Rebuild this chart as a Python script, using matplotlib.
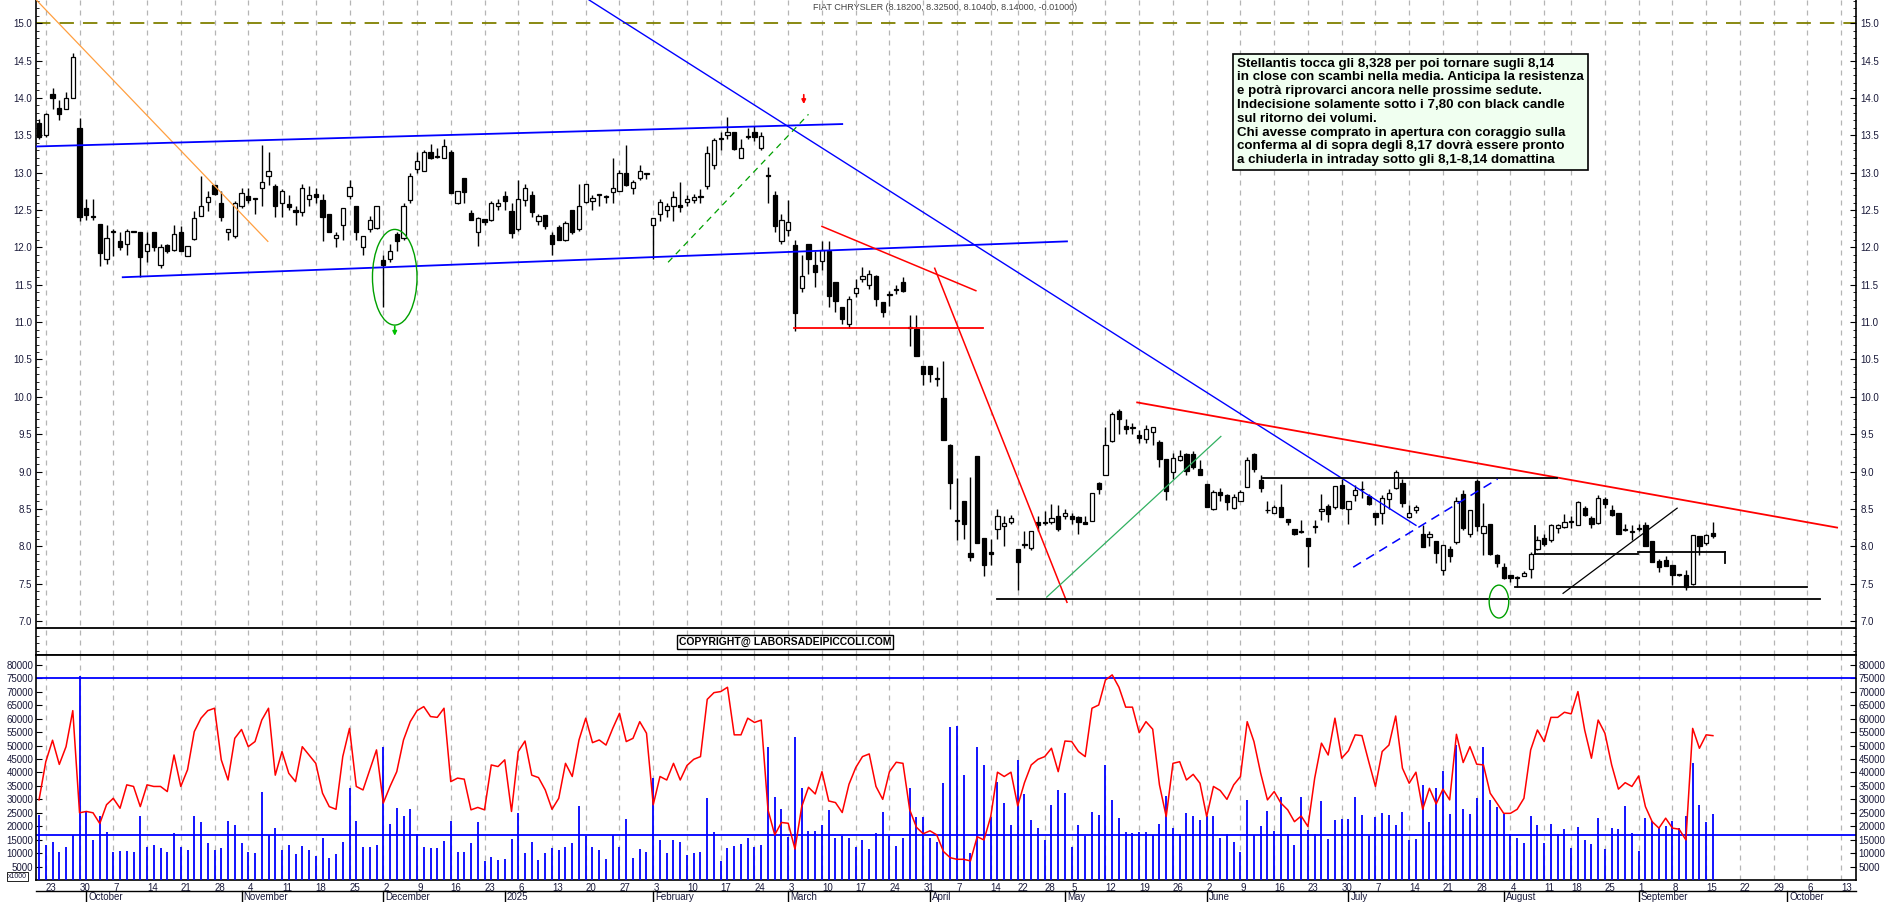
import numpy as np
import pandas as pd
import matplotlib
matplotlib.use("Agg")
import matplotlib.pyplot as plt
from matplotlib.patches import Rectangle, Ellipse

# ---------------- DATA ----------------
OPEN = [13.67,13.5,14.05,13.87,13.85,14.0,13.6,
 12.53,12.42,12.31,11.85,12.2,12.08,12.05,12.21,12.21,11.95,12.21,11.77,12.03,11.96,12.2,11.89,12.11,12.42,12.61,12.83,12.6,12.2,12.15,
 12.55,12.69,12.65,12.79,12.96,12.82,12.6,12.58,12.5,12.47,12.65,12.72,12.63,12.45,12.13,12.3,12.69,12.56,12.01,12.25,12.26,
 11.83,11.85,12.18,12.12,12.64,13.05,13.02,13.28,13.21,13.2,13.28,12.59,12.93,12.46,12.21,12.38,12.37,12.55,
 12.69,12.48,12.25,12.63,12.7,12.35,12.43,12.17,12.27,12.1,12.5,12.24,12.61,12.62,12.7,12.68,12.74,12.75,13.0,12.8,12.93,12.98,
 12.3,12.44,12.5,12.55,12.57,12.61,12.64,12.68,12.82,13.1,13.45,13.5,13.55,13.2,13.48,13.55,13.33,12.95,12.7,12.08,
 12.23,12.03,11.45,12.04,11.77,11.82,11.95,11.53,11.2,10.98,11.39,11.58,11.5,11.61,11.27,11.36,11.43,11.54,10.92,10.91,10.41,
 10.41,10.24,9.99,9.35,8.34,8.61,7.91,9.21,8.11,7.93,8.23,8.27,8.32,7.97,8.02,7.98,8.33,8.31,8.33,8.4,
 8.4,8.4,8.39,8.32,8.34,8.84,8.96,9.41,9.81,9.61,9.58,9.49,9.44,9.53,9.39,9.17,8.99,9.16,9.24,9.24,9.04,
 8.83,8.5,8.73,8.69,8.51,8.61,8.79,9.23,8.89,8.48,8.45,8.52,8.37,8.23,8.21,8.11,8.26,8.47,8.54,8.53,8.82,
 8.5,8.69,8.76,8.67,8.45,8.44,8.63,8.78,8.84,8.39,8.49,8.16,8.12,8.07,7.68,7.96,8.06,8.7,8.17,8.87,8.18,8.3,7.88,
 7.72,7.62,7.58,7.6,7.69,7.96,8.11,8.09,8.25,8.26,8.32,8.29,8.51,8.38,8.31,8.63,8.49,8.44,8.22,8.19,
 8.23,8.28,8.07,7.8,7.82,7.75,7.62,7.62,7.5,8.14,8.05,8.182]
HIGH = [13.72,13.8,14.13,13.97,14.08,14.6,13.73,
 12.65,12.65,12.31,12.3,12.25,12.2,12.25,12.22,12.21,12.2,12.21,12.05,12.05,12.3,12.28,12.02,12.48,12.95,12.75,12.83,12.75,12.25,12.62,
 12.8,12.8,12.66,13.37,13.28,12.85,12.78,12.7,12.55,12.85,12.82,12.8,12.72,12.45,12.2,12.52,12.9,12.56,12.15,12.42,12.55,
 11.9,12.05,12.2,12.6,13.0,13.28,13.3,13.38,13.33,13.45,13.3,12.75,12.93,12.5,12.4,12.38,12.62,12.65,
 12.75,12.6,12.9,12.85,12.75,12.45,12.43,12.2,12.3,12.35,12.5,12.85,12.85,12.7,12.72,12.7,13.2,13.03,13.37,12.9,13.1,13.0,
 12.39,12.65,12.6,12.75,12.87,12.7,12.72,12.78,13.35,13.47,13.55,13.75,13.55,13.45,13.6,13.62,13.55,13.07,12.75,12.45,
 12.64,12.1,11.9,12.04,11.95,12.08,12.08,11.53,11.2,11.35,11.58,11.74,11.7,11.63,11.27,11.42,11.5,11.6,11.1,11.1,10.41,
 10.41,10.4,10.48,9.37,8.92,8.6,8.93,9.21,8.1,8.1,8.5,8.4,8.42,7.97,8.2,8.2,8.4,8.47,8.57,8.55,
 8.5,8.45,8.4,8.4,8.71,8.86,9.6,9.8,9.84,9.7,9.65,9.55,9.62,9.6,9.42,9.17,9.25,9.29,9.25,9.27,9.15,
 8.83,8.75,8.78,8.7,8.7,8.75,9.2,9.25,8.95,8.6,8.55,8.83,8.37,8.23,8.35,8.11,8.35,8.7,8.57,8.81,8.9,
 8.6,8.82,8.88,8.7,8.45,8.68,8.77,9.02,8.9,8.55,8.55,8.28,8.2,8.07,8.02,8.0,8.66,8.75,8.49,8.9,8.58,8.3,7.9,
 7.77,7.6,7.6,7.67,7.92,8.14,8.17,8.3,8.3,8.43,8.4,8.6,8.54,8.4,8.68,8.66,8.55,8.45,8.3,8.28,
 8.3,8.32,8.07,7.83,7.87,7.75,7.63,7.68,8.15,8.14,8.17,8.325]
LOW = [13.45,13.48,13.85,13.7,13.85,14.0,12.35,
 12.37,12.37,11.75,11.78,11.88,11.97,11.9,12.2,11.6,11.8,11.95,11.72,11.93,11.95,11.95,11.88,12.1,12.42,12.48,12.7,12.35,12.1,12.13,
 12.52,12.6,12.45,12.55,12.84,12.4,12.4,12.5,12.3,12.42,12.55,12.6,12.08,12.2,12.0,12.1,12.65,12.1,11.9,12.2,12.25,
 11.2,11.8,11.95,12.1,12.6,13.0,13.02,13.18,13.2,13.2,12.73,12.58,12.6,12.36,12.02,12.3,12.35,12.5,
 12.5,12.13,12.22,12.55,12.4,12.3,12.25,11.9,12.1,12.08,12.18,12.22,12.6,12.5,12.55,12.6,12.6,12.75,12.82,12.72,12.9,12.92,
 11.85,12.35,12.4,12.35,12.47,12.55,12.6,12.6,12.78,13.05,13.3,13.45,13.3,13.2,13.45,13.42,13.3,12.6,12.2,12.04,
 12.15,10.88,11.4,11.65,11.47,11.7,11.2,11.13,10.97,10.92,11.33,11.53,11.44,11.22,11.07,11.22,11.37,11.4,10.68,10.54,10.16,
 10.2,10.15,9.42,8.5,8.09,8.1,7.8,8.05,7.6,7.75,8.1,8.0,8.3,7.42,7.98,7.95,8.2,8.28,8.3,8.2,
 8.37,8.3,8.17,8.3,8.34,8.7,8.96,9.4,9.5,9.5,9.5,9.38,9.38,9.35,9.06,8.62,8.9,9.14,8.95,9.03,8.96,
 8.52,8.48,8.6,8.49,8.5,8.6,8.79,9.0,8.73,8.45,8.45,8.4,8.28,8.15,8.18,7.72,8.18,8.35,8.32,8.5,8.5,
 8.3,8.6,8.65,8.55,8.28,8.3,8.5,8.76,8.52,8.38,8.45,7.99,8.0,7.78,7.62,7.79,8.03,8.22,8.12,8.2,7.88,7.88,7.72,
 7.56,7.52,7.45,7.6,7.58,7.95,8.0,8.06,8.18,8.25,8.25,8.29,8.4,8.25,8.3,8.51,8.4,8.17,8.2,8.08,
 8.2,8.0,7.79,7.66,7.75,7.48,7.6,7.42,7.48,7.88,8.02,8.104]
CLOSE = [13.48,13.79,14.0,13.79,14.0,14.55,12.41,
 12.43,12.4,11.93,12.13,12.22,12.0,12.22,12.21,11.87,12.05,12.0,12.01,11.95,12.18,11.95,12.02,12.39,12.56,12.68,12.72,12.4,12.24,12.6,
 12.73,12.63,12.65,12.88,13.02,12.55,12.76,12.54,12.47,12.8,12.7,12.67,12.4,12.21,12.17,12.52,12.81,12.21,12.15,12.36,12.55,
 11.76,11.95,12.09,12.55,12.96,13.15,13.28,13.2,13.21,13.35,12.73,12.75,12.74,12.37,12.39,12.34,12.6,12.6,
 12.62,12.19,12.65,12.8,12.47,12.42,12.28,12.05,12.1,12.33,12.21,12.55,12.85,12.66,12.7,12.67,12.8,13.0,12.84,12.87,13.02,12.98,
 12.39,12.61,12.55,12.68,12.54,12.65,12.68,12.68,13.26,13.43,13.45,13.55,13.32,13.33,13.48,13.48,13.49,12.95,12.29,12.37,
 12.34,11.12,11.61,11.84,11.67,11.97,11.35,11.28,11.04,11.31,11.46,11.62,11.64,11.31,11.14,11.36,11.43,11.42,10.92,10.54,10.31,
 10.31,10.24,9.42,8.84,8.34,8.3,7.85,8.05,7.75,7.9,8.4,8.31,8.38,7.79,8.02,8.2,8.29,8.31,8.38,8.23,
 8.44,8.37,8.32,8.3,8.71,8.76,9.35,9.77,9.7,9.57,9.58,9.45,9.57,9.6,9.17,8.74,9.18,9.21,9.01,9.06,8.96,
 8.52,8.73,8.68,8.59,8.66,8.72,9.15,9.03,8.78,8.48,8.53,8.39,8.32,8.16,8.19,8.01,8.26,8.5,8.43,8.81,8.51,
 8.6,8.75,8.76,8.57,8.39,8.64,8.71,9.0,8.58,8.44,8.53,7.99,8.17,7.91,8.02,7.87,8.6,8.25,8.49,8.27,8.27,7.9,7.77,
 7.57,7.57,7.58,7.64,7.9,8.09,8.03,8.28,8.28,8.32,8.32,8.59,8.42,8.3,8.64,8.57,8.42,8.17,8.22,8.19,
 8.23,8.01,7.79,7.72,7.74,7.62,7.62,7.45,8.15,8.0,8.15,8.14]

# volumes in thousands (blue bars) and average line (red)
VOL_A = [24.2,13.1,14.3,10.6,12.4,16.8,75.9,25.5,15,23.8,18,10.6,10.8,10.8,10.3,23.8,12.4,13.1,11.8,10.6,17.6,12.1,11,23.8,21.7,13.7,11.2,11.8,22,20.5,
 13.9,10.6,10.2,32.9,16.8,19.5,11,13.1,9.7,12.8,11,9.1,15.6,8.1,9.7,14.3,34.4,22,12.1,12.1,13.1,49.6,20.8,26.9,23.8,26.4,17.2,12.4,11.8,11.8,
 14.6,22.1,10.6,10.3,13.9,21.4,7.2,8.7,7.5,7.9,15.3,24.8,10.2,14.3,7.5,10.2,11.8,11,12.1,13.9,27.7,16.2,12.4,11,7.9,16.8,12.4,22.7,8.3,11.6,
 10.6,37.9,15,10,15]
AVG_A = [29.8,44,52,43,49.6,63,25,25.5,25,21,28,30.4,26.7,35.4,34.8,27.3,35.4,34.8,34.8,32.9,46.5,34.8,41,55.2,60.2,63,63.9,44.7,37.2,52.7,
 56,49.6,51.5,59.5,63.9,39,47.8,39.7,36.6,49.6,46.5,43.4,32.3,27.3,26.3,45.9,56.4,34.8,33.5,41,48.4,28.6,34.8,40.3,52.1,58.9,63,64.5,60.8,60.5,
 63.9,36.6,37.9,37.5,26.1,27,26.1,42.8,42.2,44.7,25.5,47.8,51.7,39,38.1,33.5,26.3,30.4,43.4,38.5,52.1,60.2,51.1,52.1,50.2,56.4,62,51.5,52.7,58.9,
 54.6,28,38.5,37.2,43.4]
VOL_B = [14,9.3,9.9,10.3,30.4,18,7.2,11.8,12.6,13.4,15.8,12.4,13.1,49.6,31,26.4,16.1,53.3,34.1,18.4,18.4,20.3,26.1,15.8,16.5,15.8,12.4,14.9,11.6,17.5,
 25.3,16.5,12.6,15.8,34.1,23.6,23.6,15.8,14.3,36,57.1,57.3,39.1,10,49.6,42.6,23.6,36.6,28.6,20.3,44.7,32,22.2,19.4,14.9,27.9,33.5,32.5,12.4,20.3,
 16.5,25.2,24.3,42.6,29.8,23,17.9,17.6,18,17.9,16.6,20.8,31.4,19.4,17.2,25,23.8,22.2,
 23.8,23.8,15.5,17.2,14.3,10.6,29.8,16.8,20.1,25.7,18.3,31,17.2,13.1,31,18.6,17.2,29.4,15.3,22.4,22.7,22.7,30.8,24.2,16.2,23.6,24.8,24,20.5,25.2,
 14.7,15.3,35.4,21.4,34.4,40.7,24.6,50.2,26.4,24.5,30.4,49.6,29.8,27.3,24.6,17,15.5,13.9,23.8,20.5,13.9,20.9,17.2,19,11.8,19.6,14.9,13.4,23.2,11.6,
 19.5,18.8,27.6,17.6,10.8,23,22,19.3,20.2,22,19.3,23.8,43.4,27.9,21.7,24.6]
AVG_B = [37.2,42.6,44.9,45.9,67.2,69.7,70.1,71.7,54,54,60.2,58.6,59.5,26.1,16.8,21.4,21.1,11.5,27.3,34.5,32,40.3,29.4,28.8,25.1,35.6,41.8,45.9,46.9,34.8,
 30,40.3,43.8,43.4,26.1,19.6,17.2,18.3,16.8,10.6,8.3,7.7,7.7,7.1,16.1,14.9,23.6,40.1,38.5,40.1,27.6,36.2,42.8,44.9,45.9,49,40.3,51.7,51.5,47.8,
 45.9,63.9,65.1,74.4,76.3,71.7,64.3,64.3,54.8,58.9,56.1,35.4,23.6,43.4,44,37.2,39.3,36,
 23.6,34.8,33.3,30,35.4,38.5,58.9,51.5,39.7,29.8,32.9,28.6,26.1,21.7,23.8,19.9,37.9,50.9,46.5,60.2,45.3,48.1,54,53.7,44.1,34.8,47.8,50.2,61,41.6,
 36,40.1,26.3,34.1,28.3,33.8,29.8,54.2,43.7,49.6,43.1,42.8,32.3,28.6,24.8,24.8,26.3,30.4,48.4,55.8,51.5,60.5,60.5,62.4,61.8,70.1,55.8,45.3,59.5,54.6,
 42.8,33.8,36.2,34.8,38.7,27.3,21.7,19.3,23,19.3,18.9,14.9,56.4,49,54,53.7]

PRICE_TICKS = [7.0,7.5,8.0,8.5,9.0,9.5,10.0,10.5,11.0,11.5,12.0,12.5,13.0,13.5,14.0,14.5,15.0]
VOL_TICKS = [5000,10000,15000,20000,25000,30000,35000,40000,45000,50000,55000,60000,65000,70000,75000,80000]
MONTHS = {1:"2025",2:"February",3:"March",4:"April",5:"May",6:"June",7:"July",8:"August",
          9:"September",10:"October",11:"November",12:"December"}
HOLIDAYS = ["2024-12-24","2024-12-25","2024-12-26","2024-12-31","2025-01-01",
            "2025-04-18","2025-04-21","2025-05-01","2025-08-15"]
TITLE = "FIAT CHRYSLER (8.18200, 8.32500, 8.10400, 8.14000, -0.01000)"
NOTE = ("Stellantis tocca gli 8,328 per poi tornare sugli 8,14\n"
        "in close con scambi nella media. Anticipa la resistenza\n"
        "e potrà riprovarci ancora nelle prossime sedute.\n"
        "Indecisione solamente sotto i 7,80 con black candle\n"
        "sul ritorno dei volumi.\n"
        "Chi avesse comprato in apertura con coraggio sulla\n"
        "conferma al di sopra degli 8,17 dovrà essere pronto\n"
        "a chiuderla in intraday sotto gli 8,1-8,14 domattina")

# ---------------- LAYOUT ----------------
N = len(CLOSE)
alld = pd.bdate_range("2024-09-20", periods=300)
alld = alld[~alld.isin(pd.to_datetime(HOLIDAYS))]
XMAX = 269.2
dates = alld[:int(XMAX) + 2]

W, H = 1890, 902
fig = plt.figure(figsize=(W/100, H/100), dpi=100)
L, R = 36/W, 1856/W
axp = fig.add_axes([L, 1-655/H, R-L, 655/H])
axv = fig.add_axes([L, 1-880/H, R-L, 225/H])
TXT = "#1a1a3a"
FONT = "Liberation Sans"

for ax in (axp, axv):
    ax.set_xlim(-0.45, XMAX)
    ax.set_facecolor("white")
    for s in ax.spines.values():
        s.set_linewidth(1.2)
    ax.spines["top"].set_visible(False)

# week grid (first trading day of each week, at least 4 sessions apart)
wk = []
for i in range(1, len(dates)):
    if dates[i].weekday() < dates[i-1].weekday():
        if not wk or i - wk[-1] >= 4:
            wk.append(i)
for ax in (axp, axv):
    for i in wk:
        ax.axvline(i, color="#b5b5b5", ls=(0, (4, 4)), lw=0.9, zorder=0)

# ---- price panel
axp.set_ylim(6.545, 15.31)
x = np.arange(N)
o, h, l, c = map(np.array, (OPEN, HIGH, LOW, CLOSE))
axp.vlines(x, l, h, color="black", lw=1.0, zorder=3)
bw = 0.62
for i in range(N):
    lo, hi = min(o[i], c[i]), max(o[i], c[i])
    hgt = max(hi - lo, 0.012)
    fc = "white" if c[i] >= o[i] else "black"
    axp.add_patch(Rectangle((i - bw/2, lo), bw, hgt, facecolor=fc, edgecolor="black", lw=0.9, zorder=4))

axp.axhline(15.0, color="#808000", ls=(0, (8, 5)), lw=1.3, zorder=1)
axp.axhline(6.906, color="black", lw=1.3, zorder=2)

def seg(p, col, lw=1.0, ls="-"):
    axp.plot([p[0], p[2]], [p[1], p[3]], color=col, lw=lw, ls=ls, zorder=5)

seg((-0.4, 15.31, 33.9, 12.08), "#ff9f40", 0.9)
seg((-0.4, 13.35, 119, 13.65), "#0000ff", 1.3)
seg((12.4, 11.6, 152.3, 12.08), "#0000ff", 1.3)
seg((81.5, 15.31, 204, 8.28), "#0000ff", 1.0)
seg((93.2, 11.8, 114, 13.78), "#00a000", 0.9, (0, (5, 4)))
seg((116, 12.28, 138.8, 11.42), "#ff0000", 1.1)
seg((111.8, 10.92, 139.8, 10.92), "#ff0000", 1.3)
seg((132.7, 11.72, 152.3, 7.25), "#ff0000", 1.1)
seg((141.9, 7.29, 263.8, 7.29), "black", 1.3)
seg((149.3, 7.32, 175.1, 9.47), "#30b060", 0.9)
seg((162.7, 9.925, 266.4, 8.25), "#ff0000", 1.3)
seg((181.3, 8.91, 224.9, 8.91), "black", 1.3)
seg((194.7, 7.72, 216.1, 8.9), "#0000ff", 1.1, (0, (6, 4)))
seg((218.7, 7.45, 262, 7.45), "black", 1.3)
seg((221.6, 7.9, 236.9, 7.9), "black", 1.3)
seg((221.6, 7.9, 221.6, 8.27), "black", 1.3)
seg((236.9, 7.92, 249.8, 7.92), "black", 1.3)
seg((249.8, 7.92, 249.8, 7.78), "black", 1.3)
seg((225.8, 7.37, 242.7, 8.51), "black", 0.9)
axp.add_patch(Ellipse((52.7, 11.6), 6.6, 1.28, fill=False, ec="#00a000", lw=1.0, zorder=5))
axp.add_patch(Ellipse((216.3, 7.26), 2.9, 0.44, fill=False, ec="#00a000", lw=1.0, zorder=5))
axp.annotate("", xy=(52.7, 10.78), xytext=(52.7, 10.98),
             arrowprops=dict(arrowstyle="-|>", color="#00c000", lw=1.2, mutation_scale=6), zorder=6)
axp.annotate("", xy=(113.3, 13.88), xytext=(113.3, 14.08),
             arrowprops=dict(arrowstyle="-|>", color="#ff0000", lw=1.2, mutation_scale=6), zorder=6)

axp.set_yticks(PRICE_TICKS)
axp.set_yticks(np.arange(6.6, 15.31, 0.1), minor=True)
axp.tick_params(axis="y", which="both", left=True, right=True, labelleft=True, labelright=True,
                direction="in", labelsize=7, labelcolor=TXT, length=4, pad=3)
axp.tick_params(axis="y", which="minor", length=2)
axp.set_xticks([])
for lab in axp.get_yticklabels():
    lab.set_fontfamily(FONT)

fig.text(0.5, 1 - 7/H, TITLE, ha="center", va="center", fontsize=6.5, color="#444444", family=FONT)
axp.text(0.660, 0.912, NOTE, transform=axp.transAxes, ha="left", va="top", fontsize=9.6,
         fontweight="bold", family="Liberation Sans", linespacing=1.2, color="black",
         bbox=dict(boxstyle="square,pad=0.3", fc="#f0fff0", ec="black", lw=1.2), zorder=8)
axp.text(110.5, 6.72, "COPYRIGHT@ LABORSADEIPICCOLI.COM", ha="center", va="center", fontsize=7.5,
         fontweight="bold", family=FONT, bbox=dict(boxstyle="square,pad=0.15", fc="white", ec="black", lw=1),
         zorder=8)

# ---- volume panel
nA = len(VOL_A)
xa = np.arange(nA)
xb = np.linspace(nA, N - 1, len(VOL_B))
xbr = np.linspace(nA, N - 1, len(AVG_B))
vx = np.concatenate([xa, xb]); vy = np.concatenate([VOL_A, VOL_B]) * 1000
ax_ = np.concatenate([np.arange(len(AVG_A)), xbr]); ay = np.concatenate([AVG_A, AVG_B]) * 1000
axv.set_ylim(0, 83700)
axv.vlines(vx, 0, vy, color="#0000ff", lw=1.3, zorder=3)
axv.plot(ax_, ay, color="#ff0000", lw=1.1, zorder=4)
axv.axhline(75000, color="#0000ff", lw=1.3, zorder=2)
axv.axhline(16800, color="#0000ff", lw=1.3, zorder=2)
axv.set_yticks(VOL_TICKS)
axv.tick_params(axis="y", which="both", left=True, right=True, labelleft=True, labelright=True,
                direction="in", labelsize=7, labelcolor=TXT, length=4, pad=2)
for lab in axv.get_yticklabels():
    lab.set_fontfamily(FONT)
axv.text(-0.005, 0.0, "x1000", transform=axv.transAxes, ha="right", va="bottom", fontsize=5,
         family=FONT, color=TXT, bbox=dict(boxstyle="square,pad=0.1", fc="white", ec="black", lw=0.6))

# date axis
axv.set_xticks(wk)
axv.set_xticklabels([str(dates[i].day) for i in wk])
axv.tick_params(axis="x", direction="in", length=0, labelsize=7, labelcolor=TXT, pad=2)
for lab in axv.get_xticklabels():
    lab.set_fontfamily(FONT)
    lab.set_horizontalalignment("left")
ms = [i for i in range(1, len(dates)) if dates[i].month != dates[i-1].month]
for i in ms:
    axv.text(i + 0.3, -0.075, MONTHS[dates[i].month], transform=axv.get_xaxis_transform(),
             ha="left", va="center", fontsize=7, family=FONT, color=TXT, clip_on=False)
    axv.plot([i, i], [-0.05, -0.1], transform=axv.get_xaxis_transform(), color="black", lw=1, clip_on=False)
fig.add_artist(plt.Line2D([L, R], [1-891/H, 1-891/H], color="black", lw=1))
fig.add_artist(plt.Line2D([L, R], [1-655/H, 1-655/H], color="black", lw=1.3))

fig.savefig("out.png", dpi=100, facecolor="white")
